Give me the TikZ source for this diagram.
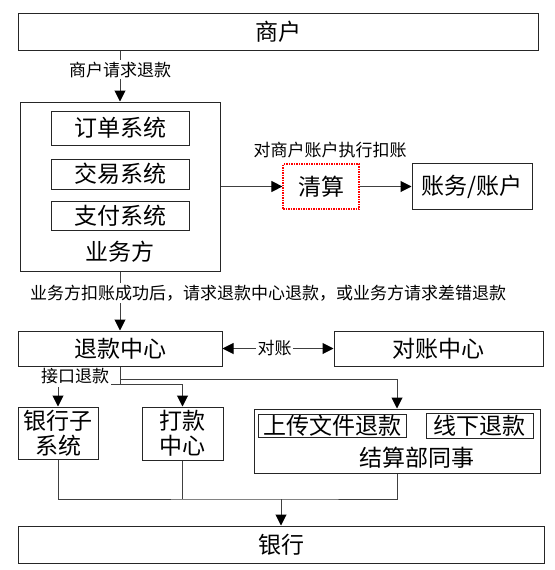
\documentclass[tikz,border=0pt]{standalone}
\usepackage{fontspec}
\setmainfont{Noto Sans CJK SC}
\usetikzlibrary{arrows.meta}
\begin{document}
\begin{tikzpicture}[x=1pt,y=-1pt,
  bigfont/.style={font=\fontsize{23}{25}\selectfont},
  box/.style={draw=black!85, line width=1pt, inner sep=0pt, bigfont, align=center},
  redbox/.style={box, draw=red, line width=1.2pt, dash pattern=on 1.5pt off 1pt},
  small/.style={font=\fontsize{17}{19}\selectfont, inner sep=1.5pt},
  lbl/.style={small, fill=white},
  conn/.style={draw=black!75, line width=1pt},
  arr/.style={conn, -{Triangle[width=11pt,length=11pt,color=black]}},
  darr/.style={conn, {Triangle[width=11pt,length=11pt,color=black]}-{Triangle[width=11pt,length=11pt,color=black]}},
]
\useasboundingbox[fill=white] (0,0) rectangle (554,570);

% boxes
\node[box, minimum width=520pt, minimum height=37pt] (shanghu) at (278,31.5) {商户};
\node[box, minimum width=200pt, minimum height=169pt] (yewu) at (120,186.5) {};
\node[box, minimum width=138pt, minimum height=34pt] (dingdan) at (120,128) {订单系统};
\node[box, minimum width=138pt, minimum height=30pt] (jiaoyi) at (120,174) {交易系统};
\node[box, minimum width=138pt, minimum height=29pt] (zhifu) at (120,215.5) {支付系统};
\node[bigfont, inner sep=0pt] (yewutext) at (120,252) {业务方};
\node[redbox, minimum width=76pt, minimum height=45pt] (qingsuan) at (321,186.5) {清算};
\node[box, minimum width=120pt, minimum height=46pt] (zhangwu) at (472,186.5) {账务/账户};
\node[small] (kouzhang) at (330,150) {对商户账户执行扣账};
\node[box, minimum width=204pt, minimum height=35pt] (tuikuan) at (120,348.5) {退款中心};
\node[box, minimum width=209pt, minimum height=35pt] (duizhang) at (438.5,348.5) {对账中心};
\node[box, minimum width=80pt, minimum height=52pt] (yhzxt) at (58,433) {银行子\\系统};
\node[box, minimum width=81pt, minimum height=53pt] (dakuan) at (182.5,433.5) {打款\\中心};
\node[box, minimum width=286pt, minimum height=64pt] (jiesuan) at (397,441) {};
\node[box, minimum width=148pt, minimum height=23pt] (shangchuan) at (332,425.5) {上传文件退款};
\node[box, minimum width=107pt, minimum height=25pt] (xianxia) at (479.5,425.5) {线下退款};
\node[bigfont, inner sep=0pt] (jstext) at (417,458) {结算部同事};
\node[box, minimum width=526pt, minimum height=37pt] (bank) at (281,544.5) {银行};

% connectors
\draw[arr] (shanghu.south -| yewu.north) -- node[lbl, pos=0.38] {商户请求退款} (yewu.north);
\draw[arr] (yewu.east) -- (qingsuan.west);
\draw[arr] (qingsuan.east) -- (zhangwu.west);
\draw[arr] (yewu.south) -- (tuikuan.north);
\node[lbl] (desc) at (268,293) {业务方扣账成功后，请求退款中心退款，或业务方请求差错退款};
\draw[darr] (tuikuan.east) -- node[lbl, pos=0.47] {对账} (duizhang.west);

\coordinate (j1) at (120,384);
\coordinate (j2) at (120,379);
\draw[conn] (tuikuan.south) -- (j1);
\draw[arr] (j1) -| (yhzxt.north);
\draw[arr] (j1) -| (dakuan.north);
\draw[arr] (j2) -| (jiesuan.north);
\node[lbl, text height=13pt, text depth=3pt] (jiekou) at (75,377) {接口退款};

\coordinate (m) at (281,499);
\draw[conn] (yhzxt.south) |- (m) -| (jiesuan.south);
\draw[conn] (dakuan.south) -- (dakuan.south |- m);
\draw[arr] (m) -- (bank.north);
\end{tikzpicture}
\end{document}
